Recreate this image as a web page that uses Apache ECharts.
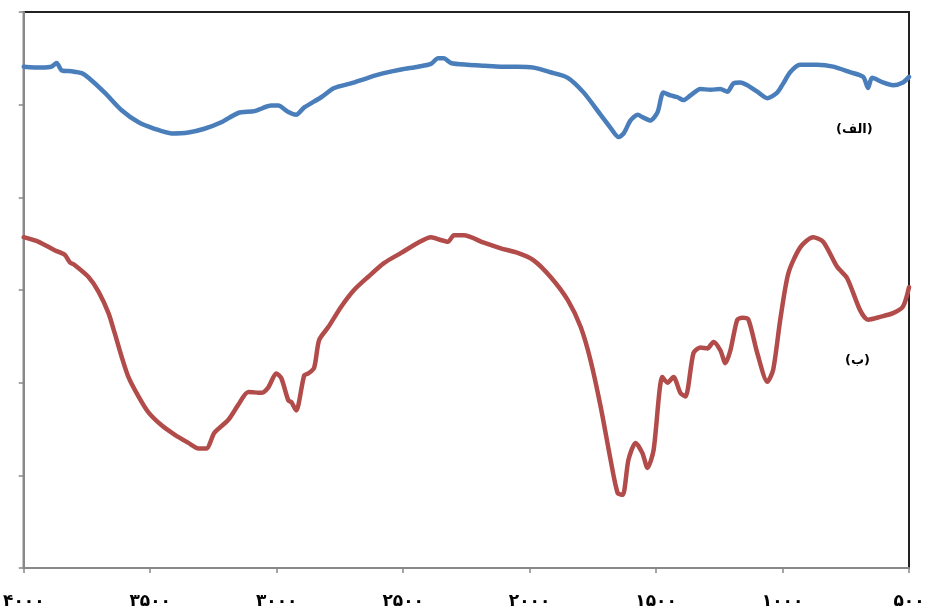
<!DOCTYPE html>
<html>
<head>
<meta charset="utf-8">
<script src="https://cdn.jsdelivr.net/npm/echarts@6/dist/echarts.min.js"></script>
<style>
html,body{margin:0;padding:0;background:#fff;}
#c{width:929px;height:611px;}
</style>
</head>
<body>
<div id="c"></div>
<script>
// Wavenumber ticks and their Persian labels
const tickValues = [4000, 3500, 3000, 2500, 2000, 1500, 1000, 500];
const tickLabels = ['۴۰۰۰', '۳۵۰۰', '۳۰۰۰', '۲۵۰۰', '۲۰۰۰', '۱۵۰۰', '۱۰۰۰', '۵۰۰'];

const seriesNames = ['(الف)', '(ب)'];

// Series (الف) — blue
const blueWavenumber = [4000,3929,3890,3870,3850,3811,3771,3744,3680,3613,3546,3483,3416,3349,3286,3219,3152,3088,3021,2994,2954,2923,2891,2824,2773,2706,2639,2576,2508,2441,2390,2362,2339,2311,2244,2181,2114,2047,1984,1917,1849,1786,1719,1680,1648,1628,1601,1573,1550,1522,1494,1471,1443,1415,1392,1364,1325,1285,1246,1218,1194,1167,1139,1100,1060,1021,997,970,931,863,800,733,681,662,646,603,563,524,500];
const blueValues = [54.1,54.0,54.1,54.5,53.7,53.6,53.4,52.9,51.3,49.4,48.1,47.4,46.9,47.0,47.4,48.1,49.1,49.3,49.9,49.9,49.2,48.9,49.7,50.8,51.8,52.3,52.9,53.4,53.8,54.1,54.4,55.0,55.0,54.5,54.3,54.2,54.1,54.1,54.0,53.5,52.9,51.3,48.9,47.5,46.5,46.9,48.3,48.9,48.6,48.3,49.2,51.3,51.0,50.8,50.5,51.0,51.7,51.6,51.7,51.4,52.3,52.4,52.1,51.4,50.7,51.3,52.3,53.5,54.3,54.3,54.1,53.5,53.0,51.8,52.9,52.4,52.1,52.4,53.0];

// Series (ب) — red
const redWavenumber = [4000,3941,3878,3838,3818,3799,3744,3704,3665,3641,3613,3586,3546,3507,3455,3404,3349,3309,3278,3246,3191,3152,3112,3061,3033,3002,2982,2954,2942,2923,2891,2875,2852,2832,2796,2745,2694,2639,2576,2508,2441,2390,2351,2323,2299,2260,2181,2114,2047,1984,1917,1849,1798,1759,1719,1680,1652,1632,1609,1581,1554,1534,1510,1475,1455,1431,1404,1384,1352,1325,1297,1273,1246,1226,1206,1179,1159,1135,1100,1060,1037,1009,977,930,879,839,784,745,693,662,614,563,524,500];
const redValues = [35.7,35.2,34.3,33.8,33.0,32.7,31.4,29.8,27.5,25.4,22.8,20.6,18.5,16.8,15.4,14.4,13.5,12.9,12.9,14.6,16.0,17.6,19.0,18.9,19.5,21.0,20.5,18.1,17.9,17.0,20.8,21.0,21.6,24.6,26.0,28.2,30.0,31.4,32.9,34.0,35.1,35.7,35.4,35.2,35.9,35.9,35.1,34.5,34.0,33.2,31.4,28.9,26.0,22.4,17.4,11.7,8.1,7.9,11.7,13.5,12.4,10.8,12.7,20.6,20.0,20.6,18.9,18.5,23.2,23.8,23.7,24.4,23.5,22.1,23.5,26.8,27.0,26.8,23.2,20.1,21.4,26.8,31.8,34.6,35.7,35.2,32.5,31.3,27.8,26.8,27.1,27.5,28.2,30.3];

const zip = (xs, ys) => xs.map((x, i) => [x, ys[i]]);

const chart = echarts.init(document.getElementById('c'), null, {renderer: 'canvas'});
chart.setOption({
  animation: false,
  backgroundColor: '#ffffff',
  grid: {
    left: 22, right: 20, top: 12, bottom: 43,
    show: true, borderColor: '#222222', borderWidth: 2, backgroundColor: 'transparent'
  },
  xAxis: {
    type: 'value', min: 500, max: 4000, interval: 500, inverse: true,
    axisLine: {show: true, onZero: false, lineStyle: {color: '#888888', width: 2}},
    axisTick: {show: true, length: 5, lineStyle: {color: '#888888', width: 1.5}},
    splitLine: {show: false},
    axisLabel: {
      margin: 25,
      fontFamily: 'DejaVu Sans', fontWeight: 'bold', fontSize: 17, color: '#000',
      formatter: v => { const i = tickValues.indexOf(v); return i >= 0 ? tickLabels[i] : ''; }
    }
  },
  yAxis: {
    type: 'value', min: 0, max: 60, interval: 10,
    axisLine: {show: true, onZero: false, lineStyle: {color: '#888888', width: 2}},
    axisTick: {show: true, length: 5, lineStyle: {color: '#888888', width: 1.5}},
    splitLine: {show: false},
    axisLabel: {show: false}
  },
  series: [
    {
      name: seriesNames[0], type: 'line', data: zip(blueWavenumber, blueValues),
      showSymbol: false, smooth: 0.25,
      lineStyle: {color: '#4a7ebb', width: 4.5, cap: 'round', join: 'round'}
    },
    {
      name: seriesNames[1], type: 'line', data: zip(redWavenumber, redValues),
      showSymbol: false, smooth: 0.25,
      lineStyle: {color: '#b24c4a', width: 4.5, cap: 'round', join: 'round'}
    }
  ],
  graphic: [
    {type: 'text', left: 836, top: 123, style: {text: seriesNames[0], fill: '#000', font: 'bold 13px "DejaVu Sans"'}},
    {type: 'text', left: 845, top: 354, style: {text: seriesNames[1], fill: '#000', font: 'bold 13px "DejaVu Sans"'}}
  ]
});
</script>
</body>
</html>
